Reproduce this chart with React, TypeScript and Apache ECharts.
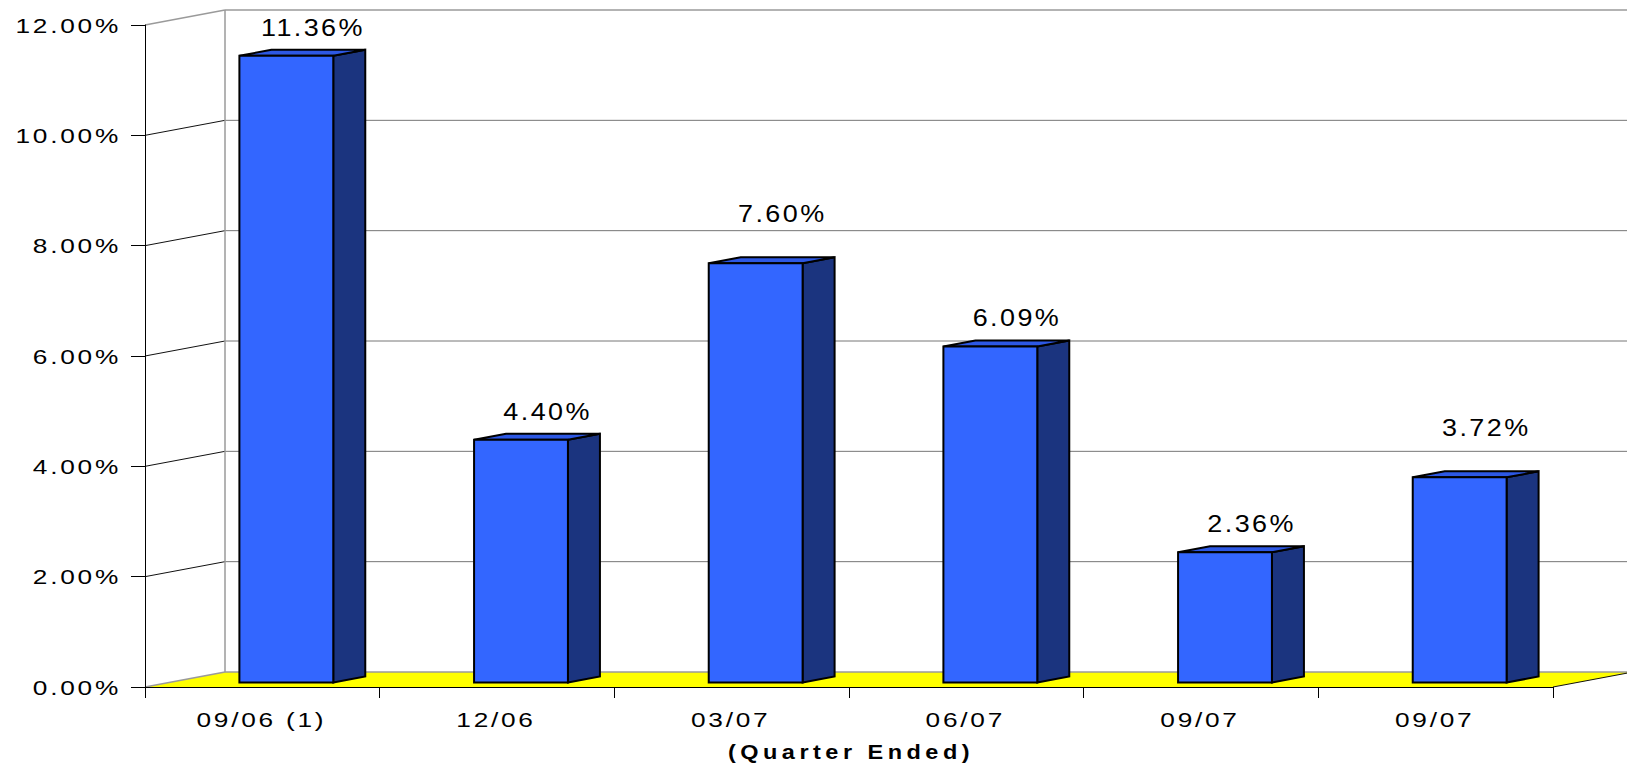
import { useEffect, useRef } from 'react';
import * as echarts from 'echarts';

// Quarterly returns
const categories = ['09/06 (1)', '12/06', '03/07', '06/07', '09/07', '09/07'];
const returns = [11.36, 4.4, 7.6, 6.09, 2.36, 3.72];
const yTicks = [0, 2, 4, 6, 8, 10, 12];
const yTickLabels = ['0.00%', '2.00%', '4.00%', '6.00%', '8.00%', '10.00%', '12.00%'];
const axisTitle = '(Quarter Ended)';

const FONT = "'Liberation Sans', Arial, Helvetica, sans-serif";

// pseudo-3D depth of the plot box
const DEPTH_X = 80;
const DEPTH_Y = -15;
// bar footprint, as fractions of the category band and of the depth
const BAR_WIDTH = 0.4;
const BAR_FRONT = 0.3;
const BAR_BACK = 0.7;
// value labels
const LABEL_DEPTH = 0.62;
const LABEL_GAP = 24;
const LABEL_LIFT = 21;

const FRONT_COLOR = '#3366FF';
const TOP_COLOR = '#2D58E4';
const SIDE_COLOR = '#1B347F';
const FLOOR_COLOR = '#FFFF00';
const WALL_EDGE = '#9a9a9a';
const GRID_COLOR = '#767676';

function stretchedText(text: string, x: number, y: number, opts: any) {
  return {
    type: 'text',
    x,
    y,
    scaleX: opts.scaleX,
    style: {
      text,
      fill: '#000',
      fontSize: opts.fontSize,
      fontWeight: opts.fontWeight || 'normal',
      fontFamily: FONT,
      align: opts.align || 'center',
      textAlign: opts.align || 'center',
      verticalAlign: 'middle',
      textVerticalAlign: 'middle',
    },
  };
}

function renderFrame(params: any, api: any) {
  const cs = params.coordSys;
  const left = cs.x;
  const right = cs.x + cs.width;
  const bottom = cs.y + cs.height;
  const children: any[] = [];

  // floor
  children.push({
    type: 'polygon',
    shape: {
      points: [
        [left, bottom],
        [right, bottom],
        [right + DEPTH_X, bottom + DEPTH_Y],
        [left + DEPTH_X, bottom + DEPTH_Y],
      ],
    },
    style: { fill: FLOOR_COLOR },
  });

  // back-wall gridlines and side-wall diagonals
  yTicks.forEach((t, k) => {
    const y = api.coord([0, t])[1];
    const edge = k === 0 || k === yTicks.length - 1;
    children.push({
      type: 'line',
      shape: { x1: left + DEPTH_X, y1: y + DEPTH_Y, x2: right + DEPTH_X + 40, y2: y + DEPTH_Y },
      style: { stroke: edge ? WALL_EDGE : GRID_COLOR, lineWidth: edge ? 1.5 : 1 },
    });
    children.push({
      type: 'line',
      shape: { x1: left, y1: y, x2: left + DEPTH_X, y2: y + DEPTH_Y },
      style: { stroke: edge ? WALL_EDGE : '#111', lineWidth: edge ? 1.5 : 1 },
    });
  });

  // back wall corner
  const yTop = api.coord([0, yTicks[yTicks.length - 1]])[1];
  children.push({
    type: 'line',
    shape: { x1: left + DEPTH_X, y1: bottom + DEPTH_Y, x2: left + DEPTH_X, y2: yTop + DEPTH_Y },
    style: { stroke: WALL_EDGE, lineWidth: 1.5 },
  });

  // right edge of the floor
  children.push({
    type: 'line',
    shape: { x1: right, y1: bottom, x2: right + DEPTH_X, y2: bottom + DEPTH_Y },
    style: { stroke: '#111', lineWidth: 1 },
  });

  // axis title (letter-spaced via the stylesheet below)
  children.push(
    stretchedText(axisTitle, left + cs.width / 2 + 2, bottom + 65, {
      fontSize: 21,
      fontWeight: 'bold',
      scaleX: 1.12,
    })
  );

  return { type: 'group', children };
}

function renderBar(params: any, api: any) {
  const i = api.value(0);
  const v = api.value(1);
  const base = api.coord([i, 0]);
  const top = api.coord([i, v]);
  const band = api.size([1, 0])[0];
  const w = band * BAR_WIDTH;

  const x0 = base[0] - w / 2 + BAR_FRONT * DEPTH_X;
  const x1 = x0 + w;
  const yb = base[1] + BAR_FRONT * DEPTH_Y;
  const yt = top[1] + BAR_FRONT * DEPTH_Y;
  const bdx = (BAR_BACK - BAR_FRONT) * DEPTH_X;
  const bdy = (BAR_BACK - BAR_FRONT) * DEPTH_Y;

  const edge = { stroke: '#000', lineWidth: 2, lineJoin: 'miter' };

  // value label, lifted clear of a back-wall gridline when they would cross
  let ly = top[1] + LABEL_DEPTH * DEPTH_Y - LABEL_GAP;
  const crosses = yTicks.some((t) => {
    if (t === 0) return false;
    const gy = api.coord([0, t])[1] + DEPTH_Y;
    return Math.abs(gy - ly) < 11;
  });
  if (crosses) ly -= LABEL_LIFT;

  return {
    type: 'group',
    children: [
      {
        type: 'polygon',
        shape: { points: [[x1, yb], [x1 + bdx, yb + bdy], [x1 + bdx, yt + bdy], [x1, yt]] },
        style: { fill: SIDE_COLOR, ...edge },
      },
      {
        type: 'polygon',
        shape: { points: [[x0, yt], [x1, yt], [x1 + bdx, yt + bdy], [x0 + bdx, yt + bdy]] },
        style: { fill: TOP_COLOR, ...edge },
      },
      {
        type: 'polygon',
        shape: { points: [[x0, yb], [x1, yb], [x1, yt], [x0, yt]] },
        style: { fill: FRONT_COLOR, ...edge },
      },
      stretchedText(v.toFixed(2) + '%', base[0] + LABEL_DEPTH * DEPTH_X + 1, ly, {
        fontSize: 24.5,
        scaleX: 1.1,
      }),
    ],
  };
}

function renderYLabel(params: any, api: any) {
  const cs = params.coordSys;
  const y = api.coord([0, api.value(1)])[1];
  return stretchedText(yTickLabels[params.dataIndex], cs.x - 24, y, {
    fontSize: 21,
    scaleX: 1.25,
    align: 'right',
  });
}

function renderXLabel(params: any, api: any) {
  const cs = params.coordSys;
  const p = api.coord([api.value(0), 0]);
  return stretchedText(categories[params.dataIndex], p[0] - 1, cs.y + cs.height + 32, {
    fontSize: 21,
    scaleX: 1.25,
  });
}

export default function App() {
  const ref = useRef<HTMLDivElement>(null);

  useEffect(() => {
    if (!ref.current) return;
    const chart = echarts.init(ref.current, undefined, { renderer: 'svg' });
    chart.setOption({
      animation: false,
      backgroundColor: '#ffffff',
      grid: { left: 145, right: 74, top: 25, bottom: 81 },
      xAxis: {
        type: 'category',
        data: categories,
        boundaryGap: true,
        z: 5,
        axisLine: { show: true, lineStyle: { color: '#000', width: 1 } },
        axisTick: { show: true, length: 11, lineStyle: { color: '#000', width: 1 } },
        axisLabel: { show: false },
        splitLine: { show: false },
      },
      yAxis: {
        type: 'value',
        min: 0,
        max: 12,
        interval: 2,
        z: 5,
        axisLine: { show: true, lineStyle: { color: '#000', width: 1 } },
        axisTick: { show: true, length: 14, lineStyle: { color: '#000', width: 1 } },
        axisLabel: { show: false },
        splitLine: { show: false },
      },
      series: [
        {
          type: 'custom',
          name: 'frame',
          silent: true,
          z: 1,
          data: [[0, 0]],
          renderItem: renderFrame,
        },
        {
          type: 'custom',
          name: 'Return',
          silent: true,
          z: 3,
          data: returns.map((v, i) => [i, v]),
          renderItem: renderBar,
        },
        {
          type: 'custom',
          name: 'yLabels',
          silent: true,
          z: 4,
          data: yTicks.map((t) => [0, t]),
          renderItem: renderYLabel,
        },
        {
          type: 'custom',
          name: 'xLabels',
          silent: true,
          z: 4,
          data: categories.map((_, i) => [i, 0]),
          renderItem: renderXLabel,
        },
      ],
    });
    return () => chart.dispose();
  }, []);

  return (
    <>
      <style>{`
        #return-chart text { letter-spacing: 2.2px; }
        #return-chart text[style*="bold"] { letter-spacing: 4px; }
      `}</style>
      <div
        id="return-chart"
        ref={ref}
        style={{ position: 'absolute', left: 0, top: 0, width: 1627, height: 768, background: '#fff' }}
      />
    </>
  );
}
